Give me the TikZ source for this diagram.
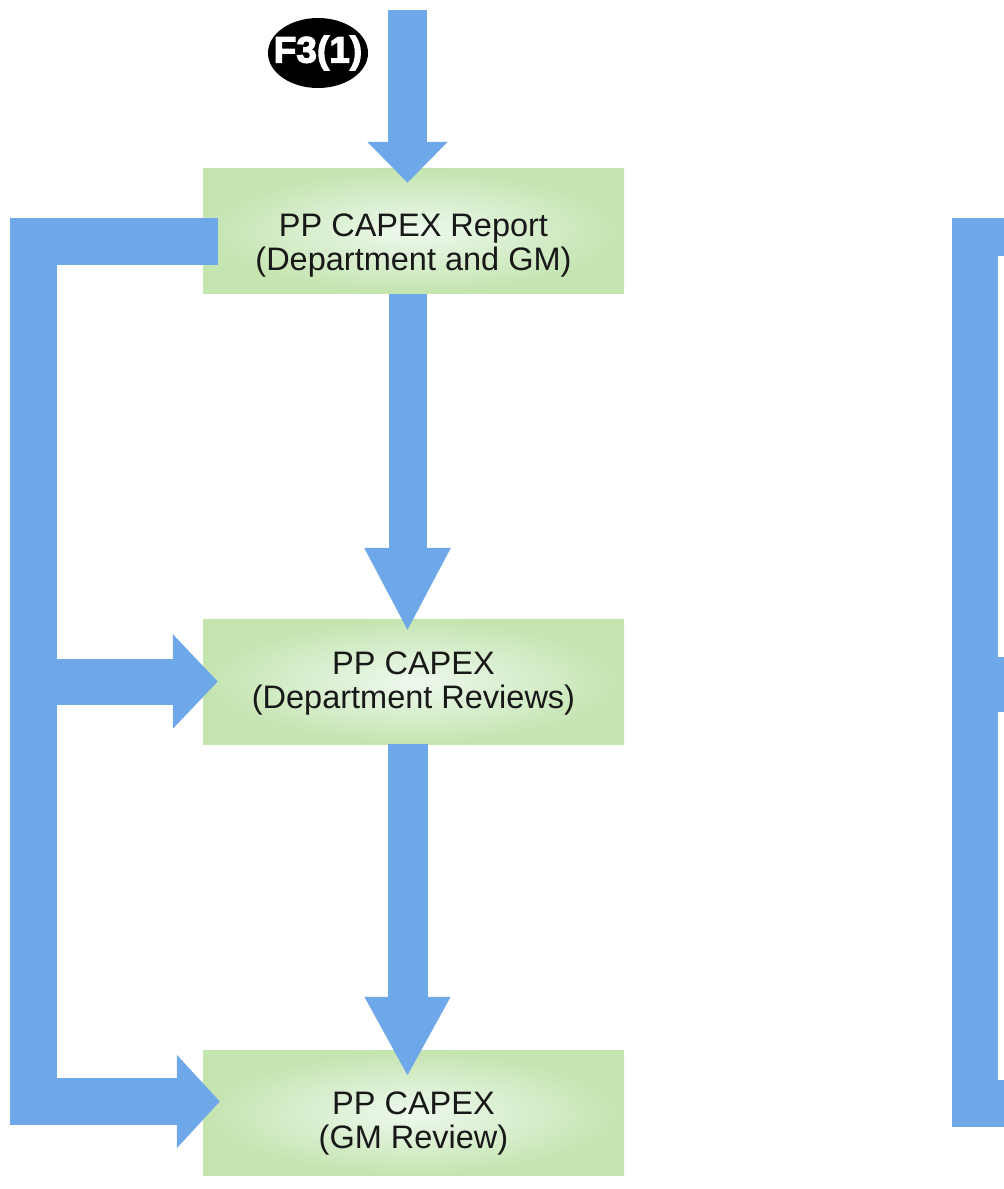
\documentclass[tikz,border=0pt]{standalone}
\usepackage{fontspec}
\setmainfont{Liberation Sans}
\newfontfamily\badgefont[FakeBold=3]{Liberation Sans}
\usetikzlibrary{arrows.meta,shapes.geometric}

\definecolor{arrowblue}{RGB}{111,168,232}
\definecolor{boxout}{RGB}{196,228,176}
\definecolor{boxin}{RGB}{238,249,238}
\definecolor{ink}{RGB}{24,24,24}

% strut that pushes the two text lines of a box downwards
\newcommand{\boxstrut}[1]{\rule{0pt}{#1}}

\begin{document}
\begin{tikzpicture}[x=1pt,y=-1pt,
  stepbox/.style={rectangle, minimum width=421pt, minimum height=125pt,
    inner sep=0pt, shading=radial, inner color=boxin, outer color=boxout,
    align=center, text=ink, font=\fontsize{32.5}{33.5}\selectfont},
  badge/.style={ellipse, fill=black, minimum width=100pt, minimum height=70pt,
    inner xsep=-14pt, inner ysep=0pt, text=white,
    font=\badgefont\bfseries\fontsize{37}{37}\selectfont},
  flow/.style={draw=arrowblue, line join=miter},
  bar/.style={draw=arrowblue, line width=47pt, line join=miter}
]
\useasboundingbox (0,0) rectangle (1004,1189);

% process boxes
\node[stepbox] (b1) at (413.5,231)  {\boxstrut{52pt}PP CAPEX Report\\(Department and GM)};
\node[stepbox] (b2) at (413.5,681.5){\boxstrut{27pt}PP CAPEX\\(Department Reviews)};
\node[stepbox] (b3) at (413.5,1113) {\boxstrut{44pt}PP CAPEX\\(GM Review)};

% entry badge
\node[badge] (f3) at (318,53) {F3(1)};

% free end of the entry arrow and corners of the feedback bracket
\coordinate (src) at (407.5,10);
\coordinate (lt) at (33.5,241.5);
\coordinate (lb) at (33.5,1101.5);
\coordinate (lm) at (33.5,681.5);

% main downward flow
\draw[flow, line width=39pt, -{Triangle[width=78pt,length=41pt]}]
  (src) -- ([xshift=-6pt,yshift=-14.5pt]b1.north);
\draw[flow, line width=38pt, -{Triangle[width=80pt,length=84pt]}]
  ([xshift=-6pt]b1.south) -- ([xshift=-6pt,yshift=-13pt]b2.north);
\draw[flow, line width=40pt, -{Triangle[width=80pt,length=80pt]}]
  ([xshift=-6pt]b2.south) -- ([xshift=-6pt,yshift=-26.5pt]b3.north);

% left bracket feeding the reviews
\draw[bar, -{Triangle[width=91pt,length=43pt]}]
  ([xshift=15pt,yshift=-10.5pt]b1.west) -- (lt) -- (lb)
  -- ([xshift=17pt,yshift=11.5pt]b3.west);
\draw[bar, line width=46pt, -{Triangle[width=92pt,length=45pt]}]
  (lm) -- ([xshift=15pt]b2.west);

% bracket of the next column at the right edge
\fill[arrowblue] (952,218) rectangle (998,1127);
\fill[arrowblue] (998,218) rectangle (1004,256);
\fill[arrowblue] (998,657) rectangle (1004,712);
\fill[arrowblue] (998,1080) rectangle (1004,1127);
\end{tikzpicture}
\end{document}
